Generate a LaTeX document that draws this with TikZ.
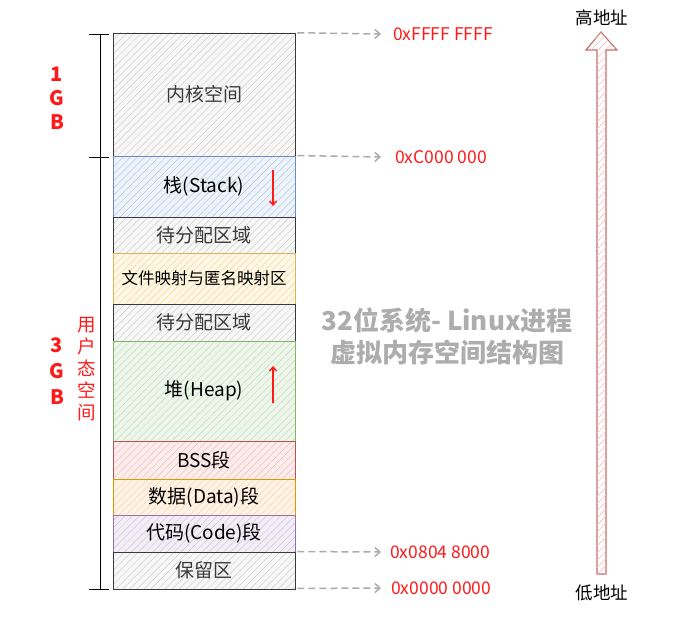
\documentclass[tikz,border=0pt]{standalone}
\usepackage{fontspec}
\setmainfont{Noto Sans CJK SC}
\usetikzlibrary{patterns.meta,arrows.meta}
\definecolor{kfill}{HTML}{F7F7F7}\definecolor{khatch}{HTML}{CFCFCF}\definecolor{kdraw}{HTML}{3A3A3A}
\definecolor{sfill}{HTML}{EEF3FA}\definecolor{shatch}{HTML}{B5C9E8}\definecolor{sdraw}{HTML}{6C8EBF}
\definecolor{yfill}{HTML}{FFF8E6}\definecolor{yhatch}{HTML}{F2D898}\definecolor{ydraw}{HTML}{D6B656}
\definecolor{gfill}{HTML}{EEF6EC}\definecolor{ghatch}{HTML}{C0DDB8}\definecolor{gdraw}{HTML}{82B366}
\definecolor{rfill}{HTML}{FCEDED}\definecolor{rhatch}{HTML}{F3BABA}\definecolor{rdraw}{HTML}{B85450}
\definecolor{ofill}{HTML}{FFF3E6}\definecolor{ohatch}{HTML}{FAD2A8}\definecolor{odraw}{HTML}{D79B00}
\definecolor{pfill}{HTML}{F3EEF6}\definecolor{phatch}{HTML}{D3C3E0}\definecolor{pdraw}{HTML}{9673A6}
\definecolor{addr}{HTML}{FF1A1A}\definecolor{dgray}{HTML}{ABABAB}\definecolor{title}{HTML}{ADADAD}
\definecolor{bigdraw}{HTML}{C96A6A}\definecolor{bighatch}{HTML}{F5C2C2}
\begin{document}
\begin{tikzpicture}[x=1pt,y=-1pt,
  seg/.style n args={3}{draw=#3, line width=0.9pt, inner sep=0pt,
    minimum width=182pt, preaction={fill=#1},
    pattern={Lines[angle=45,distance=5pt,line width=0.5pt]}, pattern color=#2,
    font=\fontsize{19}{19}\selectfont},
  addrlbl/.style={anchor=west, text=addr, inner sep=0pt, font=\fontsize{17.5}{17.5}\selectfont},
  addrarrow/.style={draw=dgray, line width=1.5pt, dash pattern=on 7pt off 4pt,
    -{Straight Barb[length=5pt,width=9pt,line width=1.5pt]}},
  redtxt/.style={text=addr, align=center, inner sep=0pt},
  brk/.style={line width=0.9pt, draw=black},
  growarrow/.style={draw=addr, line width=1.4pt, -{Straight Barb[length=4pt,width=7pt,line width=1.4pt]}}]
\useasboundingbox (0,0) rectangle (688,634);
% segments
\node[seg={kfill}{khatch}{kdraw}, minimum height=123pt, text=kdraw] (kern) at (204,94.5) {内核空间};
\node[seg={sfill}{shatch}{sdraw}, minimum height=61pt] (stack) at (204,186.5) {栈(Stack)};
\node[seg={kfill}{khatch}{kdraw}, minimum height=36pt, text=kdraw] (free1) at (204,235) {待分配区域};
\node[seg={yfill}{yhatch}{ydraw}, minimum height=51pt, font=\fontsize{16.5}{16.5}\selectfont] (mmap) at (204,278.5) {文件映射与匿名映射区};
\node[seg={kfill}{khatch}{kdraw}, minimum height=37pt, text=kdraw] (free2) at (204,322.5) {待分配区域};
\node[seg={gfill}{ghatch}{gdraw}, minimum height=100pt] (heap) at (204,391) {堆(Heap)};
\node[seg={rfill}{rhatch}{rdraw}, minimum height=38pt] (bss) at (204,460) {BSS段};
\node[seg={ofill}{ohatch}{odraw}, minimum height=36pt] (data) at (204,497) {数据(Data)段};
\node[seg={pfill}{phatch}{pdraw}, minimum height=37pt] (code) at (204,533.5) {代码(Code)段};
\node[seg={kfill}{khatch}{kdraw}, minimum height=37pt, text=kdraw] (resv) at (204,570.5) {保留区};
% growth arrows
\coordinate (sa1) at (273,170); \coordinate (sa2) at (273,206);
\draw[growarrow] (sa1) -- (sa2);
\coordinate (ha1) at (273,403); \coordinate (ha2) at (273,366);
\draw[growarrow] (ha1) -- (ha2);
% bracket
\coordinate (b1) at (100,34); \coordinate (b3) at (100,589);
\coordinate (t1l) at (89,34); \coordinate (t1r) at (109,34);
\coordinate (t2l) at (89,157); \coordinate (t2r) at (109,157);
\coordinate (t3l) at (89,589); \coordinate (t3r) at (109,589);
\draw[brk] (b1) -- (b3);
\draw[brk] (t1l) -- (t1r); \draw[brk] (t2l) -- (t2r); \draw[brk] (t3l) -- (t3r);
\node[redtxt, font=\bfseries\fontsize{20}{24}\selectfont] (g1) at (57,98) {1\\G\\B};
\node[redtxt, font=\bfseries\fontsize{20}{26}\selectfont] (g3) at (57,371) {3\\G\\B};
\node[redtxt, font=\fontsize{18.5}{22}\selectfont] (user) at (87,369) {用\\户\\态\\空\\间};
% address labels
\node[addrlbl] (aF) at (393,34) {0xFFFF FFFF};
\node[addrlbl] (aC) at (395,157) {0xC000 000};
\node[addrlbl] (a8) at (390,552) {0x0804 8000};
\node[addrlbl] (a0) at (391,588) {0x0000 0000};
\coordinate (eF) at (381,34); \coordinate (eC) at (381,157);
\coordinate (e8) at (381,552); \coordinate (e0) at (381,588);
\draw[addrarrow] (kern.north east) ++(2,0) -- (eF);
\draw[addrarrow] (stack.north east) ++(2,0) -- (eC);
\draw[addrarrow] (resv.north east) ++(2,0) -- (e8);
\draw[addrarrow] (resv.south east) ++(2,-1) -- (e0);
% title
\node[text=title, align=center, font=\bfseries\fontsize{26}{32}\selectfont] (ttl) at (447,336) {32位系统- Linux进程\\虚拟内存空间结构图};
% big address arrow
\filldraw[draw=bigdraw, line width=1.1pt, fill=white, postaction={pattern={Lines[angle=45,distance=5pt,line width=0.6pt]}, pattern color=bighatch}]
  (597,574) -- (597,50) -- (586,50) -- (601,32) -- (617,50) -- (606,50) -- (606,574) -- cycle;
\node[font=\fontsize{17.5}{17.5}\selectfont] (hi) at (602,18) {高地址};
\node[font=\fontsize{17.5}{17.5}\selectfont] (lo) at (602,593) {低地址};
\end{tikzpicture}
\end{document}
